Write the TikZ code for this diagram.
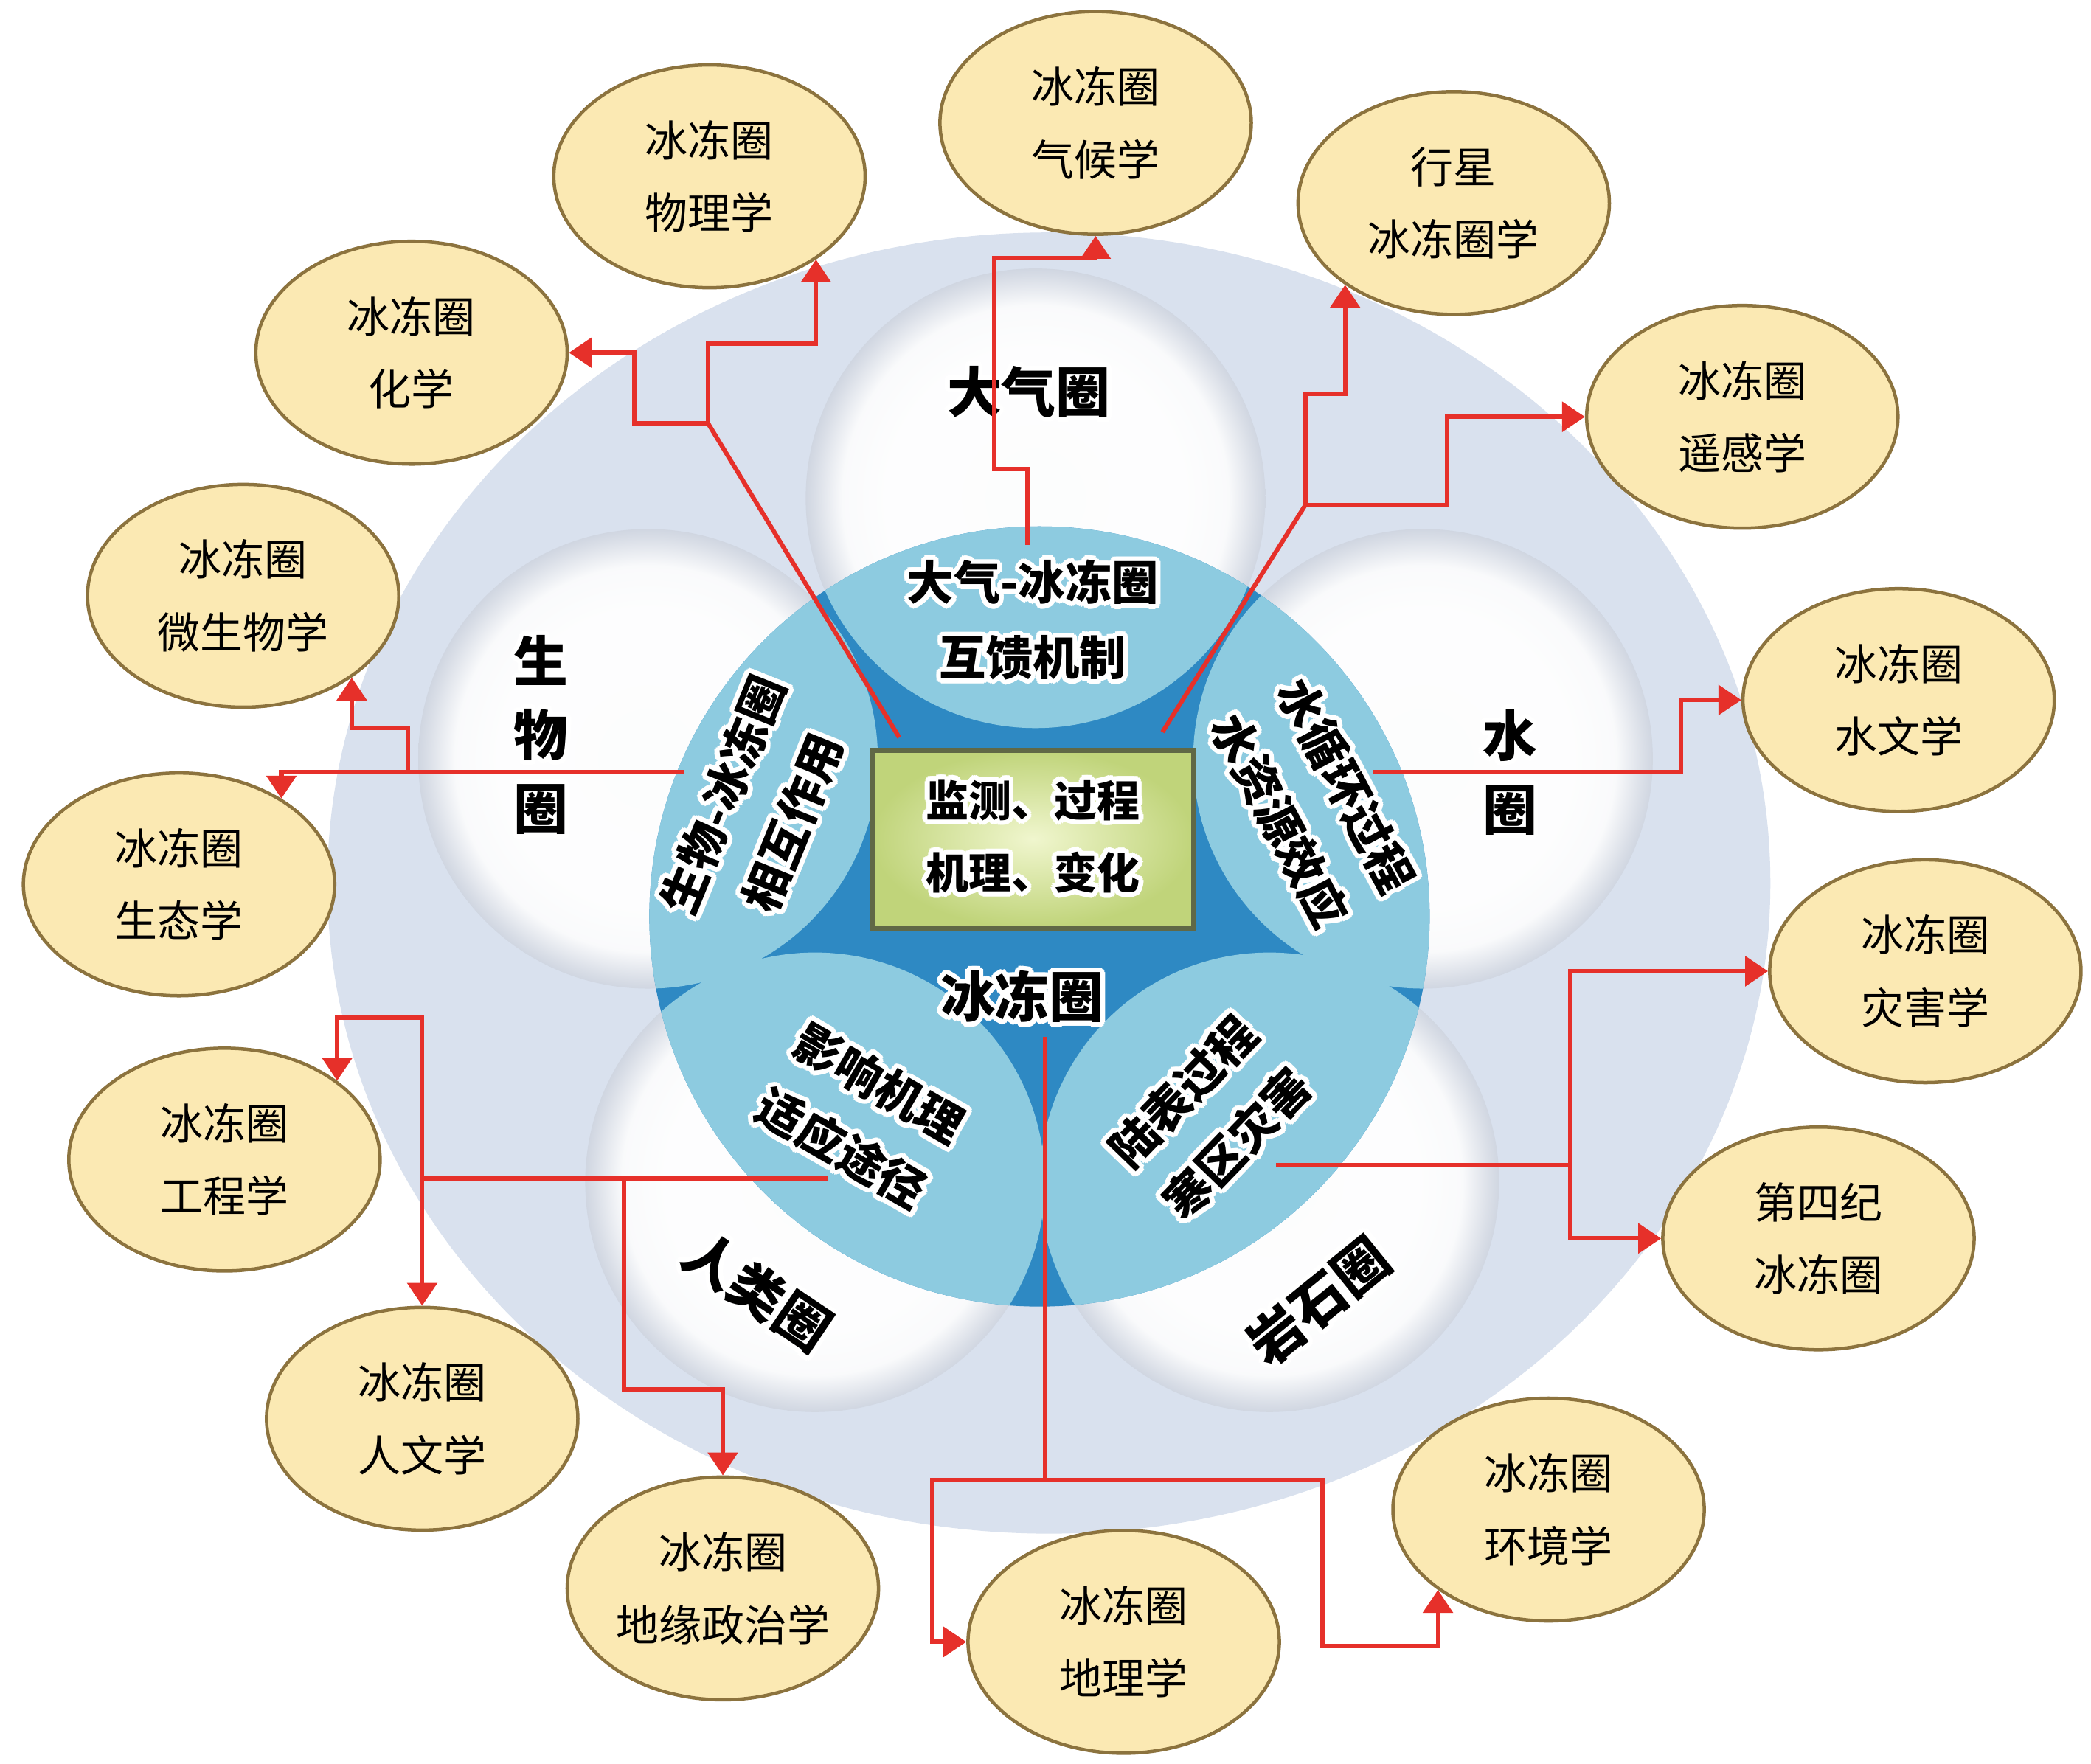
\documentclass[tikz,border=0pt]{standalone}
\usepackage{fontspec}
\setmainfont{Noto Sans CJK SC}
\usepackage{contour}
\contourlength{1.9pt}
\usetikzlibrary{arrows.meta,shapes.geometric,positioning}

\definecolor{bgblue}{RGB}{217,225,238}
\definecolor{sphgray}{RGB}{208,214,225}
\definecolor{deepblue}{RGB}{46,137,195}
\definecolor{lensblue}{RGB}{141,203,224}
\definecolor{boxin}{RGB}{240,246,206}
\definecolor{boxout}{RGB}{192,212,122}
\definecolor{boxline}{RGB}{96,104,70}
\definecolor{eggfill}{RGB}{251,233,179}
\definecolor{eggline}{RGB}{140,115,62}
\definecolor{linkred}{RGB}{230,48,42}

\pgfdeclareradialshading{sphere}{\pgfpoint{0bp}{0bp}}{color(0bp)=(white!94!sphgray); color(16bp)=(white!96!sphgray); color(21bp)=(white!88!sphgray); color(24bp)=(sphgray!80!white); color(25bp)=(sphgray); color(50bp)=(sphgray)}

\newcommand{\halo}[1]{\contour{white}{#1}}

\tikzset{
  discipline/.style={ellipse, draw=eggline, line width=0.45mm, fill=eggfill,
    minimum width=42.2mm, minimum height=30.2mm, inner sep=0pt, align=center,
    font=\fontsize{16.5}{28}\selectfont},
  sphere label/.style={font=\bfseries\fontsize{21}{28.4}\selectfont, inner sep=0pt, align=center},
  lens label/.style={font=\bfseries\fontsize{18}{29}\selectfont, align=center, inner sep=0pt},
  link/.style={draw=linkred, line width=0.6mm},
  arrowed/.style={-{Triangle[length=3.1mm,width=4mm]}}
}

\begin{document}
\begin{tikzpicture}[x=0.1811mm, y=-0.1811mm]

  \path[use as bounding box, fill=white] (0,0) rectangle (1565,1320);

  % background disc and the five spheres
  \fill[bgblue] (785,661) ellipse [x radius=540, y radius=487];
  \foreach \cx/\cy in {485/568, 1065/568, 610/885, 950/885, 775/373}
    \shade[shading=sphere] (\cx,\cy) circle (172);

  % cryosphere core
  \fill[deepblue] (778,686) circle (292);
  \begin{scope}
    \clip (778,686) circle (292);
    \foreach \cx/\cy in {485/568, 1065/568, 610/885, 950/885, 775/373}
      \fill[lensblue] (\cx,\cy) circle (172);
  \end{scope}

  \node[draw=boxline, line width=0.7mm, inner color=boxin, outer color=boxout,
        minimum width=43.6mm, minimum height=24.1mm, align=center,
        font=\bfseries\fontsize{16.5}{28}\selectfont] (box) at (773,628)
        {\halo{监测、过程}\\\halo{机理、变化}};

  % sphere names
  \node[sphere label] (atmo) at (770,295) {\halo{大气圈}};
  \node[sphere label] (bio) at (405,552) {\halo{生}\\\halo{物}\\\halo{圈}};
  \node[sphere label] (water) at (1130,580) {\halo{水}\\\halo{圈}};
  \node[sphere label, rotate=-34] (anthro) at (566,968) {\halo{人类圈}};
  \node[sphere label, rotate=39] (litho) at (988,975) {\halo{岩石圈}};
  \node[sphere label] (cryo) at (765,748) {\halo{冰冻圈}};

  % interaction labels
  \node[lens label] (ac) at (773,466) {\halo{大气-冰冻圈}\\\halo{互馈机制}};
  \node[lens label, rotate=68] (bc) at (569,606) {\halo{生物-冰冻圈}\\\halo{相互作用}};
  \node[lens label, rotate=-62] (wc) at (981,602) {\halo{水循环过程}\\\halo{水资源效应}};
  \node[lens label, rotate=-30] (hc) at (643,837) {\halo{影响机理}\\\halo{适应途径}};
  \node[lens label, rotate=46] (lc) at (907,838) {\halo{陆表过程}\\\halo{寒区灾害}};

  % disciplines
  \begin{scope}[every node/.style={discipline}]
    \node (phys)   at (531,132)  {冰冻圈\\物理学};
    \node (clim)   at (820,92)   {冰冻圈\\气候学};
    \node (plan)   at (1088,152) {行星\\冰冻圈学};
    \node (chem)   at (308,264)  {冰冻圈\\化学};
    \node (remote) at (1304,312) {冰冻圈\\遥感学};
    \node (micro)  at (182,446)  {冰冻圈\\微生物学};
    \node (hydrol) at (1421,524) {冰冻圈\\水文学};
    \node (ecol)   at (134,662)  {冰冻圈\\生态学};
    \node (hazard) at (1441,727) {冰冻圈\\灾害学};
    \node (engin)  at (168,868)  {冰冻圈\\工程学};
    \node (quat)   at (1361,927) {第四纪\\冰冻圈};
    \node (human)  at (316,1062) {冰冻圈\\人文学};
    \node (envir)  at (1159,1130) {冰冻圈\\环境学};
    \node (geopol) at (541,1189) {冰冻圈\\地缘政治学};
    \node (geog)   at (841,1229) {冰冻圈\\地理学};
  \end{scope}

  % links
  \coordinate (s1) at (673,552);
  \coordinate (j1) at (530,317);
  \draw[link] (s1) -- (j1);
  \draw[link, arrowed] (j1) -- ++(-55,0) |- (chem.east);
  \draw[link, arrowed] (j1) -- ++(0,-60) -| (phys.-38);

  \coordinate (s2) at (769,408);
  \draw[link, arrowed] (s2) -- ++(0,-57) -- ++(-25,0) -- ++(0,-158) -| (clim.south);

  \coordinate (s3) at (870,548);
  \coordinate (j3) at (977,378);
  \draw[link] (s3) -- (j3);
  \draw[link, arrowed] (j3) -- ++(0,-83) -| (plan.-143);
  \draw[link, arrowed] (j3) -- ++(106,0) |- (remote.west);

  \coordinate (s4) at (1028,578);
  \draw[link, arrowed] (s4) -- ++(230,0) |- (hydrol.west);

  \coordinate (s5) at (512,578);
  \coordinate (j5) at (305,578);
  \draw[link, arrowed] (s5) -| (ecol.40);
  \draw[link, arrowed] (j5) -- ++(0,-33) -| (micro.-37);

  \coordinate (s6) at (620,882);
  \coordinate (j6) at (human.north |- s6);
  \coordinate (k6) at (467,882);
  \draw[link] (s6) -- (j6);
  \draw[link, arrowed] (j6) -- (human.north);
  \draw[link, arrowed] (j6) -- ++(0,-120) -| (engin.35);
  \draw[link, arrowed] (k6) -- ++(0,158) -| (geopol.north);

  \coordinate (s7) at (782,776);
  \coordinate (j7) at (782,1108);
  \draw[link] (s7) -- (j7);
  \draw[link, arrowed] (j7) -- ++(-84,0) |- (geog.west);
  \draw[link, arrowed] (j7) -- ++(208,0) -- ++(0,124) -| (envir.-144);

  \coordinate (s8) at (955,872);
  \coordinate (j8) at (1175,872);
  \draw[link] (s8) -- (j8);
  \draw[link, arrowed] (j8) |- (hazard.west);
  \draw[link, arrowed] (j8) |- (quat.west);

\end{tikzpicture}
\end{document}
